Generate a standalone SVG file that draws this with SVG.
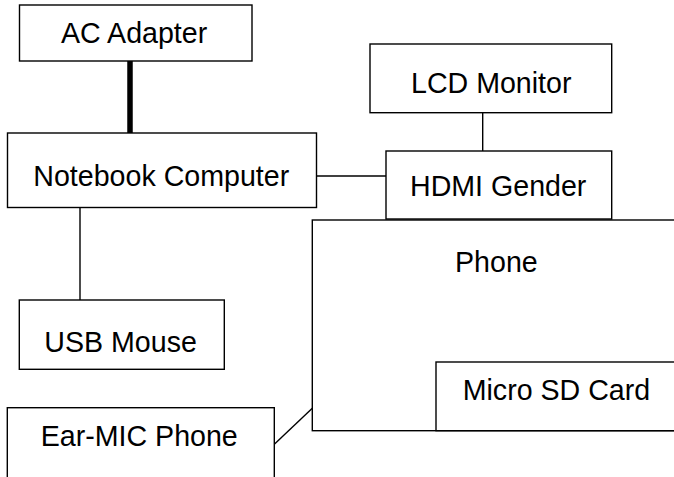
<svg xmlns="http://www.w3.org/2000/svg" width="674" height="477" viewBox="0 0 674 477">
<style>
rect{fill:#fff;stroke:#000;stroke-width:1.4}
text{font-family:"Liberation Sans",Arial,sans-serif;font-size:28.6px;fill:#000}
.c{stroke:#000;stroke-width:1.4;fill:none}
</style>
<rect x="0" y="0" width="674" height="477" style="stroke:none"/>
<g id="connectors">
<line class="c" x1="130" y1="61" x2="130" y2="133" style="stroke-width:5.5"/>
<line class="c" x1="316.5" y1="176" x2="386" y2="176"/>
<line class="c" x1="482.7" y1="112.7" x2="482.7" y2="151"/>
<line class="c" x1="80" y1="207.5" x2="80" y2="300"/>
<line class="c" x1="274.3" y1="444.3" x2="312.3" y2="408.3"/>
</g>
<g id="ac-adapter"><rect x="19.5" y="5" width="232.5" height="56"/><text x="61" y="43.3">AC Adapter</text></g>
<g id="notebook"><rect x="7.5" y="133" width="309" height="74.5"/><text x="33.3" y="186">Notebook Computer</text></g>
<g id="lcd-monitor"><rect x="370" y="44" width="241.7" height="68.7"/><text x="411" y="93.3">LCD Monitor</text></g>
<g id="phone"><rect x="312.3" y="220" width="380" height="210.7"/><text x="455" y="271.7">Phone</text></g>
<g id="hdmi-gender"><rect x="386" y="151" width="225.7" height="68"/><text x="410" y="196">HDMI Gender</text></g>
<g id="micro-sd"><rect x="436" y="362" width="260" height="68.7"/><text x="462.7" y="400">Micro SD Card</text></g>
<g id="usb-mouse"><rect x="19.3" y="300" width="205" height="69.3"/><text x="44.3" y="351.7">USB Mouse</text></g>
<g id="ear-mic"><rect x="7.3" y="407.7" width="267" height="90"/><text x="40.7" y="445.7">Ear-MIC Phone</text></g>
</svg>
